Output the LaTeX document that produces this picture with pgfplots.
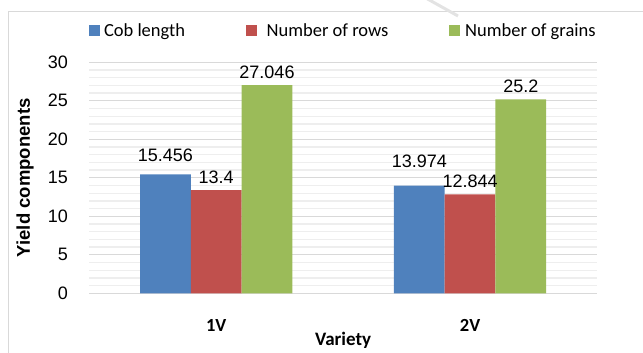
\documentclass[border=0pt]{standalone}
\usepackage{pgfplots}
\pgfplotsset{compat=1.18}
\usepackage{pgfplotstable}
\usepackage{fontspec}
\setmainfont{Liberation Sans}
\newfontfamily\calibri{Carlito}

\definecolor{cobblue}{HTML}{4F81BD}
\definecolor{rowred}{HTML}{C0504D}
\definecolor{graingreen}{HTML}{9BBB59}
\definecolor{gridmajor}{HTML}{D9D9D9}
\definecolor{gridminor}{HTML}{EEEEEE}
\definecolor{framegray}{HTML}{D9D9D9}

% x = variety index, val = mean value, off = label lift above the bar (bp)
\pgfplotstableread{
x  val     off
0  15.456  13
1  13.974  18.5
}\coblength
\pgfplotstableread{
x  val     off
0  13.4    6.5
1  12.844  6.5
}\rows
\pgfplotstableread{
x  val     off
0  27.046  7
1  25.2    7
}\grains

\begin{document}
\begin{tikzpicture}
\useasboundingbox (0bp,0bp) rectangle (643bp,353bp);
\begin{scope}
  \clip (0bp,0bp) rectangle (643bp,353bp);
  \draw[framegray, line width=1.5bp] (8.3bp,-5bp) -- (8.3bp,341.3bp) -- (660bp,341.3bp);
  \draw[gray!22, line width=3bp] (424bp,356bp) -- (458bp,337bp);
\end{scope}
\begin{axis}[
  at={(89.3bp,59.7bp)}, anchor=south west,
  scale only axis, width=507.7bp, height=231bp,
  xmin=-0.5, xmax=1.5, ymin=0, ymax=30,
  ybar=0pt, bar width=0.2,
  xtick={0,1}, xticklabels={1V,2V},
  ytick={0,5,...,30},
  minor y tick num=4,
  ymajorgrids, yminorgrids,
  major grid style={gridmajor, line width=1.3bp},
  minor grid style={gridminor, line width=1.3bp},
  axis x line=bottom, axis y line=left,
  x axis line style={-, gridmajor, line width=1.3bp},
  y axis line style={draw=none},
  major tick length=0pt, minor tick length=0pt,
  tick style={draw=none},
  /pgf/number format/assume math mode=true,
  yticklabel style={font=\fontsize{18bp}{20bp}\selectfont, anchor=east, inner sep=0pt, xshift=-21.3bp},
  xticklabel style={font=\calibri\bfseries\fontsize{18.5bp}{20bp}\selectfont, anchor=north, inner sep=0pt, yshift=-25.8bp},
  xlabel={Variety},
  xlabel style={font=\calibri\bfseries\fontsize{19bp}{21bp}\selectfont, at={(axis description cs:0.5,0)}, anchor=base, inner sep=0pt, yshift=-51.7bp},
  ylabel={Yield components},
  ylabel style={font=\bfseries\fontsize{18.5bp}{20bp}\selectfont, at={(axis description cs:0,0.5)}, anchor=center, inner sep=0pt, yshift=64.3bp},
  legend columns=3,
  legend image code/.code={\fill[#1] (0bp,0.7bp) rectangle (10.7bp,11.1bp);},
  legend style={at={(axis description cs:0,1.136)}, anchor=west, draw=none, fill=none,
    font=\calibri\fontsize{18.5bp}{20bp}\selectfont, inner sep=0pt, outer sep=0pt,
    nodes={inner sep=0pt}, cells={anchor=base west},
    /tikz/every odd column/.append style={column sep=4bp},
    /tikz/every even column/.append style={column sep=61bp}},
  nodes near coords={\pgfmathprintnumber[fixed, precision=3]{\pgfplotspointmeta}},
  visualization depends on={\thisrow{off} \as \laboff},
  every node near coord/.append style={font=\fontsize{18bp}{20bp}\selectfont, anchor=base, inner sep=0pt, yshift=\laboff bp},
]
\addplot[fill=cobblue, draw=none] table[x=x, y=val] {\coblength};
\addplot[fill=rowred, draw=none] table[x=x, y=val] {\rows};
\addplot[fill=graingreen, draw=none] table[x=x, y=val] {\grains};
\legend{Cob length, \hspace{6bp}Number of rows, \hspace{1bp}Number of grains}
\end{axis}
\end{tikzpicture}
\end{document}
